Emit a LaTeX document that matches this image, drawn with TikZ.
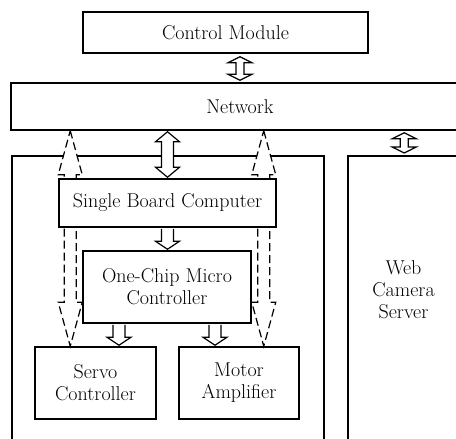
\documentclass[tikz,border=0pt]{standalone}
\usepackage{tikz}
\usetikzlibrary{calc}

%Block arrows: style, upper end, lower end, half shaft, head length
\newcommand{\twoway}[5]{%
  \draw[#1] (#2) -- ($(#2)+(12,#5)$) -- ($(#2)+(#4,#5)$) -- ($(#3)+(#4,-#5)$)
    -- ($(#3)+(12,-#5)$) -- (#3) -- ($(#3)+(-12,-#5)$) -- ($(#3)+(-#4,-#5)$)
    -- ($(#2)+(-#4,#5)$) -- ($(#2)+(-12,#5)$) -- cycle;}
\newcommand{\oneway}[5]{%
  \draw[#1] ($(#2)+(-#4,0)$) -- ($(#3)+(-#4,-#5)$) -- ($(#3)+(-12,-#5)$) -- (#3)
    -- ($(#3)+(12,-#5)$) -- ($(#3)+(#4,-#5)$) -- ($(#2)+(#4,0)$);}

\begin{document}
\begin{tikzpicture}[x=1pt,y=-1pt]

  %Styles for picture
  \tikzset
  {
  box/.style={draw, line width=1.5pt, fill=white, inner sep=0pt, align=center, font=\fontsize{20}{22}\selectfont},
  boxtext/.style={align=center, inner sep=0pt, font=\fontsize{20}{22}\selectfont},
  blockarrow/.style={draw, line width=1.2pt, fill=white, line join=miter},
  dasharrow/.style={blockarrow, dash pattern=on 8pt off 4pt},
  }

  \useasboundingbox (0,0) rectangle (456,439);
  \clip (0,0) rectangle (456,439);

  %Nodes
  \node[box, minimum width=285pt, minimum height=41pt] (ctrl) at (225.5,32.5) {Control Module};
  \node[box, minimum width=458pt, minimum height=47pt] (net) at (240,106.5) {Network};
  \node[box, minimum width=312pt, minimum height=320pt, anchor=north west] (robot) at (11,155) {};
  \node[box, minimum width=113pt, minimum height=320pt, anchor=north west] (web) at (347,155) {};
  \node[boxtext] (webtext) at (403.5,290) {Web\\Camera\\Server};
  \node[box, minimum width=121pt, minimum height=72pt] (servo) at (95.5,383) {Servo\\Controller};
  \node[box, minimum width=120pt, minimum height=72pt] (motor) at (239,383) {Motor\\Amplifier};

  %Dashed links
  \coordinate (dl) at ($(servo.north west)+(36,0)$);
  \coordinate (dr) at ($(motor.north east)+(-36,0)$);
  \coordinate (dlt) at (dl |- net.south);
  \coordinate (drt) at (dr |- net.south);
  \twoway{dasharrow}{dlt}{dl}{6}{44}
  \twoway{dasharrow}{drt}{dr}{6}{44}

  \node[box, minimum width=217pt, minimum height=48pt] (sbc) at (167.5,203) {Single Board Computer};
  \node[box, minimum width=168pt, minimum height=72pt] (mcu) at (167,287) {One-Chip Micro\\Controller};

  %Edges
  \coordinate (c1) at ($(ctrl.south -| net.north)+(0,3)$);
  \coordinate (c2) at ($(net.north)+(0,-2)$);
  \twoway{blockarrow}{c1}{c2}{4}{6}
  \coordinate (n1) at ($(net.south -| sbc.north)+(0,1)$);
  \coordinate (n2) at ($(sbc.north)+(0,-1)$);
  \twoway{blockarrow}{n1}{n2}{6}{10}
  \coordinate (w1) at ($(net.south -| web.north)+(0,2)$);
  \coordinate (w2) at ($(web.north)+(0,-2)$);
  \twoway{blockarrow}{w1}{w2}{4}{6}
  \coordinate (m0) at ($(sbc.south)+(0,1)$);
  \coordinate (m1) at ($(m0 |- mcu.north)+(0,-1)$);
  \oneway{blockarrow}{m0}{m1}{6}{8}
  \coordinate (s0) at ($(mcu.south)+(-48,1)$);
  \coordinate (s1) at ($(s0 |- servo.north)+(0,-1)$);
  \oneway{blockarrow}{s0}{s1}{6}{8}
  \coordinate (a0) at ($(mcu.south)+(48,1)$);
  \coordinate (a1) at ($(a0 |- motor.north)+(0,-1)$);
  \oneway{blockarrow}{a0}{a1}{6}{8}
\end{tikzpicture}
\end{document}
